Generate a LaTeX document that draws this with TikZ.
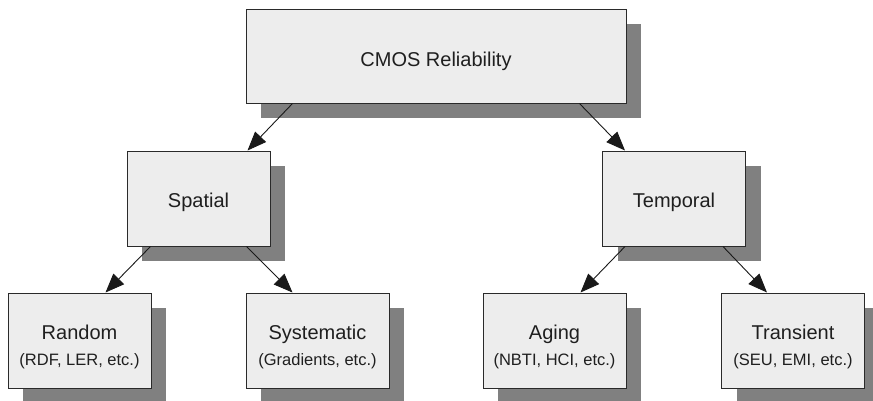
\documentclass[tikz,border=0pt]{standalone}
\usepackage{fontspec}
\setmainfont{Liberation Sans}
\usetikzlibrary{shadows,arrows.meta}
\definecolor{boxfill}{HTML}{EDEDED}
\definecolor{shadowgray}{HTML}{808080}
\definecolor{edgegray}{HTML}{2A2A2A}
\newcommand{\subline}[1]{{\fontsize{16.5}{20}\selectfont #1}}
\begin{document}
\begin{tikzpicture}[x=1pt,y=-1pt,
  box/.style={draw=edgegray, line width=1pt, fill=boxfill, rectangle, inner sep=0pt,
    align=center, text=black!88,
    drop shadow={shadow xshift=15pt, shadow yshift=-15pt, fill=shadowgray, opacity=1},
    font=\fontsize{20}{24}\selectfont},
  wide/.style={minimum width=380pt, minimum height=94pt, execute at begin node={\rule{0pt}{26pt}}},
  mid/.style={minimum width=143pt, minimum height=95pt, execute at begin node={\rule{0pt}{23pt}}},
  low/.style={minimum width=143pt, minimum height=95pt},
  lowtext/.style={align=center, text=black!88, inner sep=0pt, yshift=-6pt,
    font=\fontsize{20}{24}\selectfont},
  arr/.style={draw=black!90, line width=0.9pt, -{Triangle[length=19pt,width=15pt]}}]
\useasboundingbox (0,0) rectangle (873,400);
\clip (0,0) rectangle (873,400);
\node[box,wide] (top) at (436,56) {CMOS Reliability};
\node[box,mid] (spatial) at (198.5,198.5) {Spatial};
\node[box,mid] (temporal) at (674,198.5) {Temporal};
\node[box,low,label={[lowtext]center:{Random\\[2pt]\subline{(RDF, LER, etc.)}}}] (random) at (79.5,340.5) {};
\node[box,low,label={[lowtext]center:{Systematic\\[2pt]\subline{(Gradients, etc.)}}}] (systematic) at (317.5,340.5) {};
\node[box,low,label={[lowtext]center:{Aging\\[2pt]\subline{(NBTI, HCI, etc.)}}}] (aging) at (554.5,340.5) {};
\node[box,low,label={[lowtext]center:{Transient\\[2pt]\subline{(SEU, EMI, etc.)}}}] (transient) at (793,340.5) {};
\draw[arr] ([xshift=47pt]top.south west) -- ([xshift=-23pt]spatial.north east);
\draw[arr] ([xshift=-47pt]top.south east) -- ([xshift=23pt]temporal.north west);
\draw[arr] ([xshift=24pt]spatial.south west) -- ([xshift=-46pt]random.north east);
\draw[arr] ([xshift=-24pt]spatial.south east) -- ([xshift=47pt]systematic.north west);
\draw[arr] ([xshift=23pt]temporal.south west) -- ([xshift=-46pt]aging.north east);
\draw[arr] ([xshift=-23pt]temporal.south east) -- ([xshift=46pt]transient.north west);
\end{tikzpicture}
\end{document}
